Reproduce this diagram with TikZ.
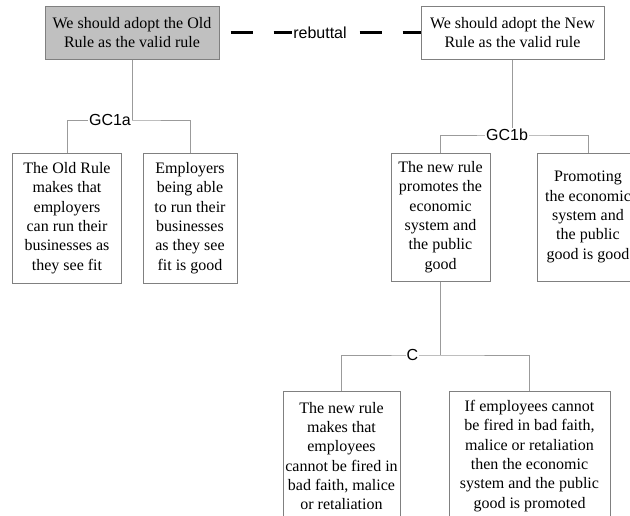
\documentclass[tikz,border=0pt]{standalone}
\usepackage{fontspec}
\setmainfont{Liberation Serif}
\newfontfamily\labelfont{Liberation Sans}
\definecolor{boxgray}{RGB}{128,128,128}
\definecolor{linkgray}{RGB}{155,155,155}
\definecolor{claimfill}{RGB}{192,192,192}
\tikzset{
  arg-box/.style={
    draw=boxgray,
    line width=1pt,
    align=center,
    inner sep=0pt,
    font=\fontsize{16}{19.3}\selectfont
  },
  claim-box/.style={arg-box, minimum height=53pt},
  premise-box/.style={arg-box, minimum height=130pt},
  link-line/.style={draw=linkgray, line width=0.9pt},
  rebut-line/.style={line width=3.5pt, dash pattern=on 22pt off 21pt, dash phase=32pt},
  link-label/.style={fill=white, inner sep=1pt, font=\labelfont\fontsize{16}{19}\selectfont}
}

\begin{document}
\begin{tikzpicture}[x=1pt, y=-1pt]
  \useasboundingbox (0,0) rectangle (630,515);
  \clip (0,0) rectangle (630,515);

  % --- Main claims ---
  \node[claim-box, fill=claimfill, minimum width=174pt] (old) at (132,32.5)
    {We should adopt the Old\\Rule as the valid rule};
  \node[claim-box, minimum width=183pt] (new) at (512.5,32.5)
    {We should adopt the New\\Rule as the valid rule};

  % --- Premises of the old rule ---
  \node[premise-box, minimum width=109pt] (old-p1) at (67,218)
    {The Old Rule\\makes that\\employers\\can run their\\businesses as\\they see fit};
  \node[premise-box, minimum width=94pt] (old-p2) at (190,218)
    {Employers\\being able\\to run their\\businesses\\as they see\\fit is good};

  % --- Premises of the new rule ---
  \node[premise-box, minimum width=99pt, minimum height=128pt] (new-p1) at (440.5,217)
    {The new rule\\promotes the\\economic\\system and\\the public\\good};
  \node[premise-box, minimum width=102pt, minimum height=128pt] (new-p2) at (588,217)
    {Promoting\\the economic\\system and\\the public\\good is good};

  % --- Sub-argument C ---
  \node[premise-box, minimum width=117pt] (c-p1) at (341.5,456)
    {The new rule\\makes that\\employees\\cannot be fired in\\bad faith, malice\\or retaliation};
  \node[premise-box, minimum width=161pt] (c-p2) at (529.5,456)
    {If employees cannot\\be fired in bad faith,\\malice or retaliation\\then the economic\\system and the public\\good is promoted};

  % --- Joins ---
  \coordinate (gc1a-join) at (132,120);
  \coordinate (gc1b-join) at (512.5,135);
  \coordinate (c-join) at (440.5,355);

  \draw[link-line] (old.south) -- (gc1a-join);
  \draw[link-line] (old-p1.north) |- (gc1a-join) -| (old-p2.north);
  \draw[link-line] (new.south) -- (gc1b-join);
  \draw[link-line] (new-p1.north) |- (gc1b-join) -| (new-p2.north);
  \draw[link-line] (new-p1.south) -- (c-join);
  \draw[link-line] (c-p1.north) |- (c-join) -| (c-p2.north);

  % rebuttal between the two claims
  \draw[rebut-line] (old.east) -- (new.west);

  % --- Labels ---
  \node[link-label] (gc1a) at (110,120) {GC1a};
  \node[link-label] (gc1b) at (507,135) {GC1b};
  \node[link-label] (c) at (412.5,355) {C};
  \node[link-label] (rebuttal) at (320,32.5) {rebuttal};
\end{tikzpicture}
\end{document}
